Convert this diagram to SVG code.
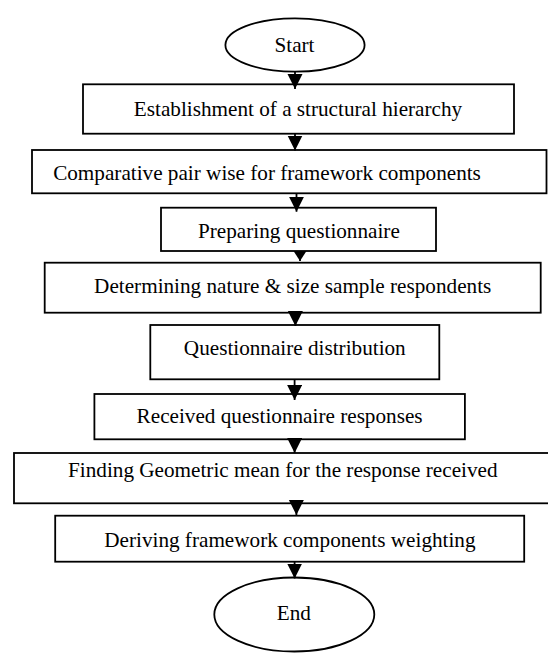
<svg xmlns="http://www.w3.org/2000/svg" width="548" height="653" viewBox="0 0 548 653">
<style>
.n{fill:#fff;stroke:#000;stroke-width:1.8}
.t{font-family:"Liberation Serif","Times New Roman",serif;font-size:21.2px;fill:#000;text-anchor:middle}
.c line{stroke:#000;stroke-width:1.8;marker-end:url(#ah)}
.c line.s{marker-end:url(#ahs)}
</style>
<defs>
<marker id="ah" markerUnits="userSpaceOnUse" markerWidth="16" markerHeight="16" refX="15" refY="7.5" orient="auto">
<path d="M0,0 L15,7.5 L0,15 Z" fill="#000"/>
</marker>
<marker id="ahs" markerUnits="userSpaceOnUse" markerWidth="12" markerHeight="14" refX="10" refY="6.5" orient="auto">
<path d="M0,0 L10,6.5 L0,13 Z" fill="#000"/>
</marker>
</defs>
<rect width="548" height="653" fill="#fff"/>
<g id="start"><ellipse class="n" cx="295" cy="45" rx="69.6" ry="26.7"/><text class="t" x="294.5" y="52">Start</text></g>
<g id="b1"><rect class="n" x="83" y="84.3" width="431" height="49.4"/><text class="t" x="298" y="115.5">Establishment of a structural hierarchy</text></g>
<g id="b2"><rect class="n" x="32" y="150" width="514.5" height="43.3"/><text class="t" x="267" y="180">Comparative pair wise for framework components</text></g>
<g id="b3"><rect class="n" x="161" y="207.7" width="275" height="43.3"/><text class="t" x="298.9" y="238.3">Preparing questionnaire</text></g>
<g id="b4"><rect class="n" x="44.7" y="262.7" width="496" height="50"/><text class="t" x="292.7" y="292.7">Determining nature &amp; size sample respondents</text></g>
<g id="b5"><rect class="n" x="150.3" y="325" width="289" height="54.3"/><text class="t" x="294.8" y="355">Questionnaire distribution</text></g>
<g id="b6"><rect class="n" x="94.4" y="394" width="370.5" height="45.3"/><text class="t" x="279.6" y="423.3">Received questionnaire responses</text></g>
<g id="b7"><rect class="n" x="14" y="453" width="540" height="50.3"/><text class="t" x="282.8" y="477">Finding Geometric mean for the response received</text></g>
<g id="b8"><rect class="n" x="55.2" y="515.7" width="469" height="46"/><text class="t" x="289.9" y="546.7">Deriving framework components weighting</text></g>
<g id="end"><ellipse class="n" cx="294.3" cy="614.5" rx="80" ry="37"/><text class="t" x="293.8" y="620">End</text></g>
<g id="connectors" class="c">
<line x1="295" y1="71.7" x2="295" y2="89"/>
<line x1="295" y1="133.7" x2="295" y2="150.5"/>
<line x1="296.5" y1="193.3" x2="296.5" y2="211.7"/>
<line class="s" x1="300" y1="251" x2="300" y2="261"/>
<line x1="295.4" y1="312.7" x2="295.4" y2="326"/>
<line x1="294.6" y1="379.3" x2="294.6" y2="400"/>
<line x1="294.6" y1="439.3" x2="294.6" y2="453"/>
<line x1="296.4" y1="503.3" x2="296.4" y2="515"/>
<line x1="294.6" y1="561.7" x2="294.6" y2="578.5"/>
</g>
</svg>
